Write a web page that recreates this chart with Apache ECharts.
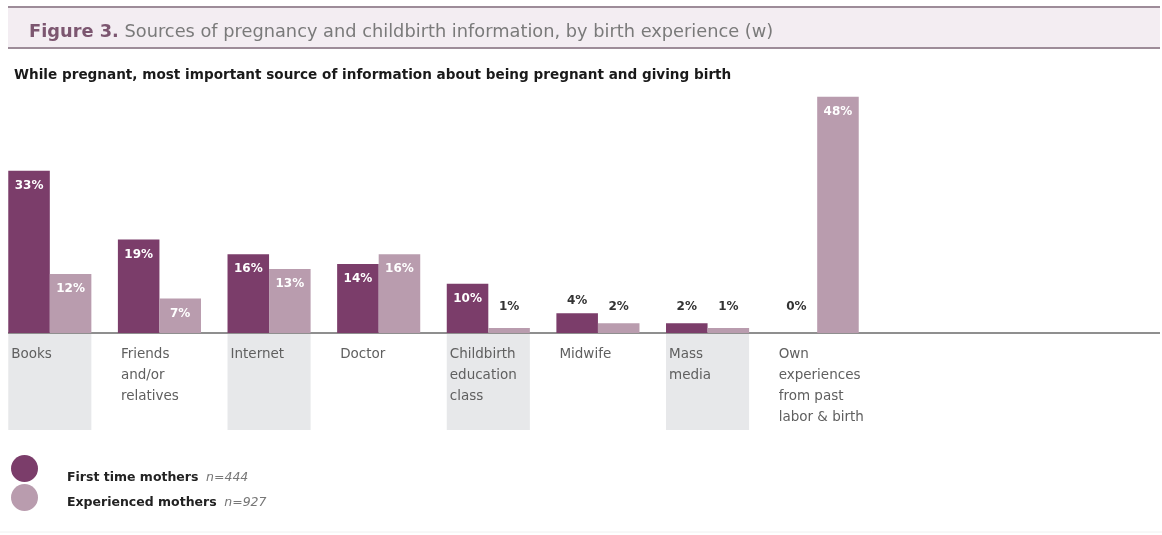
<!DOCTYPE html>
<html>
<head>
<meta charset="utf-8">
<script src="https://cdn.jsdelivr.net/npm/echarts@6/dist/echarts.min.js"></script>
<style>
html,body{margin:0;padding:0;background:#fff;}
#chart{width:1162px;height:535px;}
</style>
</head>
<body>
<div id="chart"></div>
<script>
const categories = ['Books', 'Friends\nand/or\nrelatives', 'Internet', 'Doctor', 'Childbirth\neducation\nclass', 'Midwife', 'Mass\nmedia', 'Own\nexperiences\nfrom past\nlabor & birth'];
const firstTimeMothers = [33, 19, 16, 14, 10, 4, 2, 0];
const experiencedMothers = [12, 7, 13, 16, 1, 2, 1, 48];
const seriesNames = ['First time mothers', 'Experienced mothers'];
const sampleSizes = ['n=444', 'n=927'];
const titleText = 'Sources of pregnancy and childbirth information, by birth experience (w)';
const subtitleText = 'While pregnant, most important source of information about being pregnant and giving birth';

const FONT = 'DejaVu Sans';
const DARK = '#7b3d6a';
const LIGHT = '#b99cae';
const BAR_FRAC = 0.379;

function barData(values) {
  return values.map(v => {
    if (v >= 7) {
      return { value: v, label: { position: 'insideTop', distance: 9, color: '#fff' } };
    } else if (v >= 3) {
      return { value: v, label: { position: 'top', distance: 6, color: '#333' } };
    }
    return { value: v, label: { position: 'insideBottom', distance: 20, color: '#333' } };
  });
}

const chart = echarts.init(document.getElementById('chart'), null, { renderer: 'canvas' });

const legendRich = {
  b: { fontFamily: FONT, fontWeight: 'bold', fontSize: 12.5, color: '#222' },
  i: { fontFamily: FONT, fontStyle: 'italic', fontSize: 12.5, color: '#777' }
};

const option = {
  animation: false,
  backgroundColor: '#fff',
  textStyle: { fontFamily: FONT },
  title: [
    {
      text: '{b|Figure 3.} {r|' + titleText + '}',
      left: 24, top: 18,
      textStyle: {
        fontWeight: 'normal',
        rich: {
          b: { fontFamily: FONT, fontWeight: 'bold', fontSize: 17.8, color: '#7c5670' },
          r: { fontFamily: FONT, fontWeight: 'normal', fontSize: 17.8, color: '#7a7a7a' }
        }
      }
    },
    {
      text: subtitleText,
      left: 9, top: 63,
      textStyle: { fontFamily: FONT, fontWeight: 'bold', fontSize: 13.6, color: '#1a1a1a' }
    }
  ],
  legend: [
    {
      orient: 'vertical', left: 6, top: 450,
      icon: 'circle', itemWidth: 27, itemHeight: 27,
      data: [seriesNames[0]],
      formatter: n => '{b|' + n + '}  {i|' + sampleSizes[0] + '}',
      textStyle: { padding: [18, 0, 0, 24], rich: legendRich }
    },
    {
      orient: 'vertical', left: 6, top: 479,
      icon: 'circle', itemWidth: 27, itemHeight: 27,
      data: [seriesNames[1]],
      formatter: n => '{b|' + n + '}  {i|' + sampleSizes[1] + '}',
      textStyle: { padding: [11, 0, 0, 24], rich: legendRich }
    }
  ],
  graphic: [
    { type: 'rect', z: -10, shape: { x: 8, y: 7, width: 1152, height: 41 }, style: { fill: '#f3edf2' } },
    { type: 'line', z: -5, shape: { x1: 8, y1: 7, x2: 1160, y2: 7 }, style: { stroke: '#9d8c99', lineWidth: 2 } },
    { type: 'line', z: -5, shape: { x1: 8, y1: 48, x2: 1160, y2: 48 }, style: { stroke: '#9d8c99', lineWidth: 2 } },
    { type: 'line', z: -5, shape: { x1: 8, y1: 333, x2: 1160, y2: 333 }, style: { stroke: '#8f8f8f', lineWidth: 2 } },
    { type: 'line', z: -5, shape: { x1: 0, y1: 532, x2: 1162, y2: 532 }, style: { stroke: '#f0f0f0', lineWidth: 1 } }
  ],
  grid: { left: -5, top: 87, width: 877, height: 246, containLabel: false, outerBoundsMode: 'none' },
  xAxis: {
    type: 'category',
    data: categories,
    axisLine: { show: false },
    axisTick: { show: false },
    axisLabel: { show: false },
    splitLine: { show: false }
  },
  yAxis: {
    type: 'value', min: 0, max: 50,
    show: false,
    splitLine: { show: false }
  },
  series: [
    {
      type: 'custom',
      clip: false,
      silent: true,
      z: 1,
      data: categories.map((c, i) => [i, 0]),
      encode: { x: 0, y: 1 },
      renderItem: (params, api) => {
        const idx = api.value(0);
        const pt = api.coord([idx, 0]);
        const band = api.size([1, 0])[0];
        const half = band * BAR_FRAC;
        const children = [];
        if (idx % 2 === 0) {
          children.push({
            type: 'rect',
            shape: { x: pt[0] - half, y: pt[1] + 1, width: half * 2, height: 96 },
            style: { fill: '#e7e8ea' }
          });
        }
        children.push({
          type: 'text',
          style: {
            x: pt[0] - half + 3, y: pt[1] + 11,
            text: categories[idx],
            fill: '#5f5f5f', fontFamily: FONT, fontSize: 13.5, lineHeight: 21,
            align: 'left', verticalAlign: 'top'
          }
        });
        return { type: 'group', children };
      }
    },
    {
      name: seriesNames[0],
      type: 'bar',
      z: 3,
      barWidth: (BAR_FRAC * 100) + '%',
      barGap: '0%',
      itemStyle: { color: DARK },
      label: { show: true, formatter: '{c}%', fontFamily: FONT, fontWeight: 'bold', fontSize: 12 },
      data: barData(firstTimeMothers)
    },
    {
      name: seriesNames[1],
      type: 'bar',
      z: 3,
      barWidth: (BAR_FRAC * 100) + '%',
      barGap: '0%',
      itemStyle: { color: LIGHT },
      label: { show: true, formatter: '{c}%', fontFamily: FONT, fontWeight: 'bold', fontSize: 12 },
      data: barData(experiencedMothers)
    }
  ]
};
chart.setOption(option);
</script>
</body>
</html>
